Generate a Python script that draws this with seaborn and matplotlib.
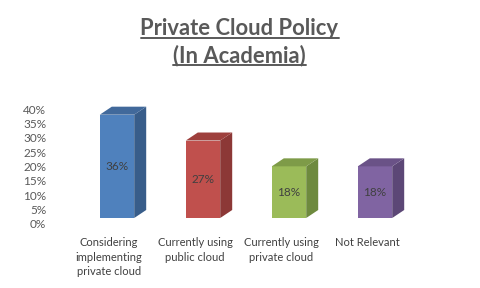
import matplotlib
matplotlib.use("Agg")
import matplotlib.pyplot as plt
import matplotlib.transforms as mtransforms
from matplotlib.patches import Polygon
from matplotlib.lines import Line2D
import seaborn as sns
import pandas as pd

categories = ["Considering\nimplementing\nprivate cloud", "Currently using\npublic cloud",
              "Currently using\nprivate cloud", "Not Relevant"]
values = [0.36, 0.27, 0.18, 0.18]
value_labels = ["36%", "27%", "18%", "18%"]
yticks = [0, 0.05, 0.10, 0.15, 0.20, 0.25, 0.30, 0.35, 0.40]
ytick_labels = ["0%", "5%", "10%", "15%", "20%", "25%", "30%", "35%", "40%"]
front_colors = ["#4F81BD", "#C0504D", "#9BBB59", "#8064A2"]
side_colors = ["#385D8A", "#8C3836", "#6E8A3E", "#5C4776"]
top_colors = ["#41699B", "#9E403D", "#7E9B48", "#6A5287"]

sns.set_theme(style="white")
plt.rcParams['font.family'] = ['Lato', 'DejaVu Sans']

df = pd.DataFrame({"cat": categories, "val": values})

fig = plt.figure(figsize=(4.8, 2.88), dpi=100)
ax = fig.add_axes([74/480, 70/288, 344/480, 42*2.87/288])
sns.barplot(data=df, x="cat", y="val", hue="cat", palette=front_colors, width=0.4,
            legend=False, ax=ax, saturation=1, edgecolor="none")
ax.set_ylim(0, 0.42)
ax.set_xlim(-0.5, 3.5)
for s in ax.spines.values():
    s.set_visible(False)

dx = 12/86
dy = 8/2.87/100
for i, p in enumerate(ax.patches):
    x, w, h = p.get_x(), p.get_width(), p.get_height()
    side = Polygon([(x+w, 0), (x+w+dx, dy), (x+w+dx, h+dy), (x+w, h)],
                   closed=True, facecolor=side_colors[i], edgecolor="none", zorder=p.get_zorder())
    top = Polygon([(x, h), (x+w, h), (x+w+dx, h+dy), (x+dx, h+dy)],
                  closed=True, facecolor=top_colors[i], edgecolor="none", zorder=p.get_zorder())
    ax.add_patch(side)
    ax.add_patch(top)
    ax.text(x + w/2, h/2, value_labels[i], ha="center", va="center",
            fontsize=8.5, color="#404040")

ax.set_yticks(yticks)
ax.set_yticklabels(ytick_labels, fontsize=8.5, color="#595959")
ax.tick_params(axis="y", length=0, pad=20)
ax.tick_params(axis="x", length=0, pad=14)
ax.set_xticks(range(len(categories)))
ax.set_xticklabels(categories, fontsize=8, color="#404040", linespacing=1.35)
ax.set_xlabel("")
ax.set_ylabel("")

off_y = mtransforms.ScaledTranslation(0, -6/100, fig.dpi_scale_trans)
for lab in ax.get_yticklabels():
    lab.set_transform(lab.get_transform() + off_y)
off_x = mtransforms.ScaledTranslation(-8/100, 0, fig.dpi_scale_trans)
for lab in ax.get_xticklabels():
    lab.set_transform(lab.get_transform() + off_x)

titles = [("Private Cloud Policy", 35), ("(In Academia)", 62)]
fig.canvas.draw()
r = fig.canvas.get_renderer()
inv = fig.transFigure.inverted()
for txt, base in titles:
    t = fig.text(239.5/480, 1 - base/288, txt, ha="center", va="baseline",
                 fontsize=15.8, fontweight="bold", color="#595959")
    bb = t.get_window_extent(r)
    (x0, _), (x1, _) = inv.transform([(bb.x0, bb.y0), (bb.x1, bb.y1)])
    yline = 1 - (base + 2.5)/288
    fig.add_artist(Line2D([x0, x1], [yline, yline], transform=fig.transFigure,
                          color="#595959", linewidth=1.4))

fig.savefig("out.png", dpi=100)
